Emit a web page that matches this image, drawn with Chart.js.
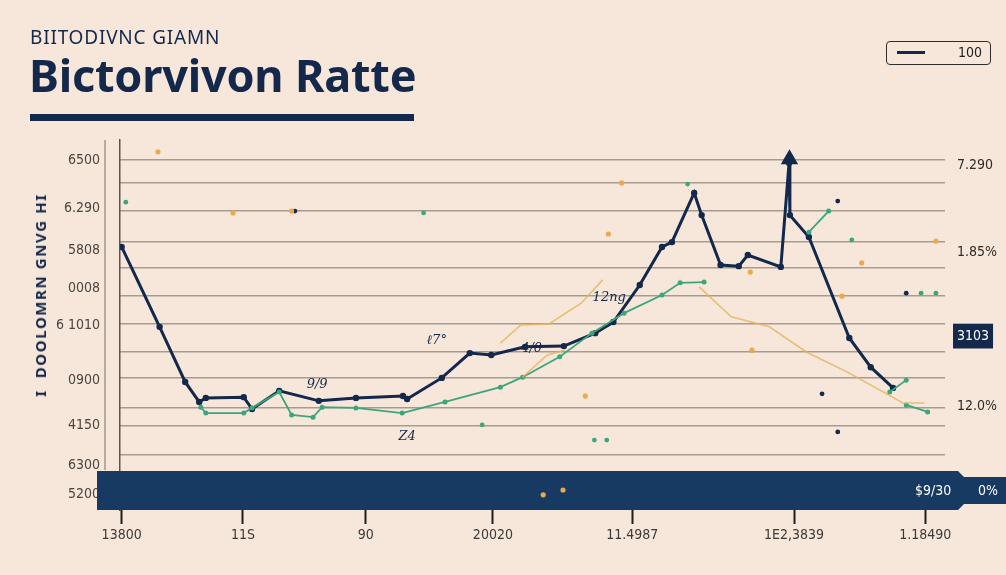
<!DOCTYPE html>
<html>
<head>
<meta charset="utf-8">
<script src="https://cdn.jsdelivr.net/npm/chart.js@4.4.1/dist/chart.umd.min.js"></script>
<style>
  body { margin: 0; background: #f6e7da; width: 1006px; height: 575px; overflow: hidden; position: relative; font-family: "Noto Sans", sans-serif; }
  #wrap { position: absolute; left: 0; top: 0; width: 1006px; height: 575px; }
  .kicker { position: absolute; left: 30px; top: 24px; font-size: 19px; color: #13284a; letter-spacing: 0.8px; }
  .title { position: absolute; left: 29px; top: 44px; font-size: 45px; font-weight: 700; color: #13284a; letter-spacing: -0.2px; }
  .rule { position: absolute; left: 30px; top: 114px; width: 384px; height: 7px; background: #13284a; }
  .ytitle { position: absolute; left: 40px; top: 295px; transform: translate(-50%, -50%) rotate(-90deg); white-space: nowrap; font-size: 15px; font-weight: 700; color: #13284a; letter-spacing: 1.6px; }
  .legend { position: absolute; left: 886px; top: 41px; width: 103px; height: 22px; border: 1.5px solid #2d2d2d; border-radius: 4px; }
  .legend .swatch { position: absolute; left: 10px; top: 9px; width: 28px; height: 3px; background: #13284a; }
  .legend .txt { position: absolute; right: 8px; top: 2px; font-size: 14px; color: #222; font-family: "Liberation Sans Narrow", "DejaVu Sans Condensed", sans-serif; }
</style>
</head>
<body>
<div id="wrap"><canvas id="rateChart" width="1006" height="575"></canvas></div>
<div class="kicker">BIITODIVNC GIAMN</div>
<div class="title">Bictorvivon Ratte</div>
<div class="rule"></div>
<div class="ytitle">I&nbsp;&nbsp;DOOLOMRN GNVG HI</div>
<div class="legend"><div class="swatch"></div><div class="txt">100</div></div>

<script>
// 1. Data
const xTickVals = [0.2, 14.9, 29.8, 45.2, 62.1, 81.7, 97.6];
const xTickLabels = ['13800', '11S', '90', '20020', '11.4987', '1E2,3839', '1.18490'];

const yTickVals = [94.6, 81.6, 70.3, 60.0, 50.0, 35.1, 23.0, 12.2, 4.1];
const yTickLabels = ['6500', '6.290', '5808', '0008', '6 1010', '0900', '4150', '6300', '5200'];
const gridVals = [94.6, 88.4, 80.8, 72.4, 65.4, 57.8, 50.3, 42.7, 35.7, 27.6, 22.7, 14.9];

const rightTickVals = [93.2, 69.5, 47.0, 28.1];
const rightTickLabels = ['7.290', '1.85%', '3103', '12.0%'];

const navyX = [0.2, 4.8, 7.9, 9.6, 10.4, 15.0, 16.0, 19.3, 24.1, 28.6, 34.3, 34.8, 39.0, 42.4, 45.0, 49.1, 53.8, 57.6, 59.8, 63.0, 65.7, 66.9, 69.6, 70.5, 72.8, 75.0, 76.1, 80.1, 81.1, 81.2, 83.5, 88.4, 91.0, 93.7];
const navyY = [71.1, 49.5, 34.6, 29.2, 30.3, 30.5, 27.3, 32.2, 29.5, 30.3, 30.8, 30.0, 35.7, 42.4, 41.9, 44.1, 44.3, 47.8, 50.8, 60.8, 71.1, 72.4, 85.7, 79.7, 66.2, 65.9, 68.9, 65.7, 93.8, 79.7, 73.8, 46.5, 38.6, 33.0];

const greenX = [9.8, 10.4, 15.0, 16.0, 19.3, 20.8, 23.4, 24.5, 28.6, 34.2, 39.4, 46.1, 48.8, 53.3, 57.2, 61.1, 65.7, 67.9, 70.8, null, 83.5, 85.9, null, 93.3, 95.3, null, 95.3, 97.9];
const greenY = [27.8, 26.2, 26.2, 27.6, 31.9, 25.7, 25.1, 27.8, 27.6, 26.2, 29.2, 33.2, 35.9, 41.4, 47.8, 53.2, 58.1, 61.4, 61.6, null, 75.1, 80.8, null, 31.9, 35.1, null, 28.4, 26.5];

const amberX = [46.1, 48.6, 52.0, 55.9, 58.5, null, 48.8, 51.8, 53.9, null, 70.2, 74.1, 78.7, 83.2, 88.4, 94.9, 97.5];
const amberY = [45.1, 50.0, 50.3, 55.9, 62.2, null, 35.9, 41.9, 43.2, null, 60.3, 52.2, 49.5, 42.7, 37.0, 28.9, 28.9];

// confetti specks
const amberDotsX = [4.6, 13.7, 20.8, 59.2, 60.8, 76.4, 76.6, 87.5, 89.9, 98.9, 56.4, 51.3, 53.7];
const amberDotsY = [96.8, 80.3, 80.8, 74.6, 88.4, 64.3, 43.2, 57.8, 66.8, 72.7, 30.8, 4.1, 5.4];
const greenDotsX = [0.7, 36.8, 68.8, 88.7, 57.5, 59.0, 97.1, 98.9, 43.9];
const greenDotsY = [83.2, 80.3, 88.1, 73.0, 18.9, 18.9, 58.6, 58.6, 23.0];
const navyDotsX = [87.0, 85.1, 87.0, 95.3, 21.2];
const navyDotsY = [83.5, 31.4, 21.1, 58.6, 80.8];

const arrowX = [81.15];
const arrowY = [94.8];

// small scribbled notes on the plot
const noteText = ['ℓ7°', '12ng', '4/0', '9/9', 'Z4'];
const noteX = [38.4, 59.3, 49.9, 23.9, 34.8];
const noteY = [45.9, 57.3, 43.5, 33.8, 19.7];

// 2. Helpers
function toPoints(xs, ys) {
    let lastX = 0;
    return xs.map((x, i) => {
        if (x !== null) lastX = x;
        return { x: lastX, y: ys[i] };
    });
}

const NAVY = '#13284a';
const GREEN = '#3da57c';
const tickFont = { family: "'Liberation Sans Narrow', 'DejaVu Sans Condensed', sans-serif", size: 14 };

// 3. Band + notes drawn by a small plugin
const decorPlugin = {
    id: 'decor',
    beforeDatasetsDraw(chart) {
        const { ctx, chartArea } = chart;
        const b = chartArea.bottom;
        ctx.save();
        // thin extra rule left of the axis
        ctx.strokeStyle = '#7a7068';
        ctx.lineWidth = 1;
        ctx.beginPath();
        ctx.moveTo(chartArea.left - 15, chartArea.top);
        ctx.lineTo(chartArea.left - 15, b - 40);
        ctx.stroke();
        // navy band across the foot of the plot
        ctx.fillStyle = '#173a63';
        ctx.beginPath();
        ctx.moveTo(chartArea.left - 23, b - 39);
        ctx.lineTo(chartArea.right + 13, b - 39);
        ctx.lineTo(chartArea.right + 19, b - 33);
        ctx.lineTo(chart.width, b - 33);
        ctx.lineTo(chart.width, b - 6);
        ctx.lineTo(chartArea.right + 19, b - 6);
        ctx.lineTo(chartArea.right + 13, b);
        ctx.lineTo(chartArea.left - 23, b);
        ctx.closePath();
        ctx.fill();
        ctx.fillStyle = '#ffffff';
        ctx.font = "14px 'Liberation Sans Narrow', 'DejaVu Sans Condensed', sans-serif";
        ctx.textBaseline = 'middle';
        ctx.fillText('$9/30', chartArea.right - 30, b - 19);
        ctx.fillText('0%', chartArea.right + 33, b - 19);
        ctx.restore();
    },
    afterDatasetsDraw(chart) {
        const { ctx, scales } = chart;
        ctx.save();
        ctx.fillStyle = NAVY;
        ctx.font = "italic 13px 'DejaVu Serif', serif";
        ctx.textAlign = 'center';
        ctx.textBaseline = 'middle';
        noteText.forEach((t, i) => {
            ctx.fillText(t, scales.x.getPixelForValue(noteX[i]), scales.y.getPixelForValue(noteY[i]));
        });
        ctx.restore();
    }
};

// 4. Chart
const ctx = document.getElementById('rateChart').getContext('2d');
new Chart(ctx, {
    type: 'line',
    data: {
        datasets: [
            {
                data: toPoints(amberX, amberY),
                borderColor: 'rgba(230,179,92,0.8)',
                borderWidth: 1.6,
                pointRadius: 0,
                spanGaps: false
            },
            {
                data: toPoints(greenX, greenY),
                borderColor: GREEN,
                borderWidth: 1.8,
                pointRadius: 2.5,
                pointBackgroundColor: GREEN,
                pointBorderWidth: 0,
                spanGaps: false
            },
            {
                data: toPoints(navyX, navyY),
                borderColor: NAVY,
                borderWidth: 3,
                pointRadius: 3.2,
                pointBackgroundColor: NAVY,
                pointBorderWidth: 0
            },
            {
                type: 'scatter',
                data: toPoints(amberDotsX, amberDotsY),
                pointRadius: 2.6,
                pointBackgroundColor: '#e9a94c',
                pointBorderWidth: 0
            },
            {
                type: 'scatter',
                data: toPoints(greenDotsX, greenDotsY),
                pointRadius: 2.4,
                pointBackgroundColor: GREEN,
                pointBorderWidth: 0
            },
            {
                type: 'scatter',
                data: toPoints(navyDotsX, navyDotsY),
                pointRadius: 2.4,
                pointBackgroundColor: NAVY,
                pointBorderWidth: 0
            },
            {
                type: 'scatter',
                data: toPoints(arrowX, arrowY),
                pointStyle: 'triangle',
                pointRadius: 10,
                pointBackgroundColor: NAVY,
                pointBorderWidth: 0
            }
        ]
    },
    options: {
        responsive: false,
        animation: false,
        layout: { padding: { top: 140, left: 0, right: 0, bottom: 0 } },
        plugins: { legend: { display: false }, tooltip: { enabled: false } },
        scales: {
            x: {
                type: 'linear',
                min: 0,
                max: 100,
                afterFit: s => { s.height = 65; },
                afterBuildTicks: s => { s.ticks = xTickVals.map(v => ({ value: v })); },
                ticks: {
                    autoSkip: false,
                    maxRotation: 0,
                    padding: 3,
                    color: '#3c3a38',
                    font: tickFont,
                    callback: (v, i) => xTickLabels[i]
                },
                grid: { drawOnChartArea: false, tickLength: 14, tickWidth: 2, tickColor: '#1f1f1f' },
                border: { display: false }
            },
            yg: {
                position: 'left',
                min: 0,
                max: 100,
                afterFit: s => { s.width = 0; },
                afterBuildTicks: s => { s.ticks = gridVals.map(v => ({ value: v })); },
                ticks: { display: false },
                grid: { color: '#a59b91', lineWidth: 1.5, drawTicks: false },
                border: { display: false }
            },
            y: {
                position: 'left',
                min: 0,
                max: 100,
                afterFit: s => { s.width = 120; },
                afterBuildTicks: s => { s.ticks = yTickVals.map(v => ({ value: v })); },
                ticks: {
                    padding: 20,
                    color: '#4a4540',
                    font: tickFont,
                    callback: (v, i) => yTickLabels[i]
                },
                grid: { display: false, drawTicks: false },
                border: { display: true, color: '#5a534d', width: 1.5 }
            },
            y2: {
                position: 'right',
                min: 0,
                max: 100,
                afterFit: s => { s.width = 61; },
                afterBuildTicks: s => { s.ticks = rightTickVals.map(v => ({ value: v })); },
                ticks: {
                    padding: 12,
                    font: tickFont,
                    color: c => (c.index === 2 ? '#ffffff' : '#2e2b28'),
                    showLabelBackdrop: true,
                    backdropColor: c => (c.index === 2 ? NAVY : 'rgba(0,0,0,0)'),
                    backdropPadding: 4,
                    callback: (v, i) => rightTickLabels[i]
                },
                grid: { display: false, drawTicks: false },
                border: { display: false }
            }
        }
    },
    plugins: [decorPlugin]
});
</script>
</body>
</html>
